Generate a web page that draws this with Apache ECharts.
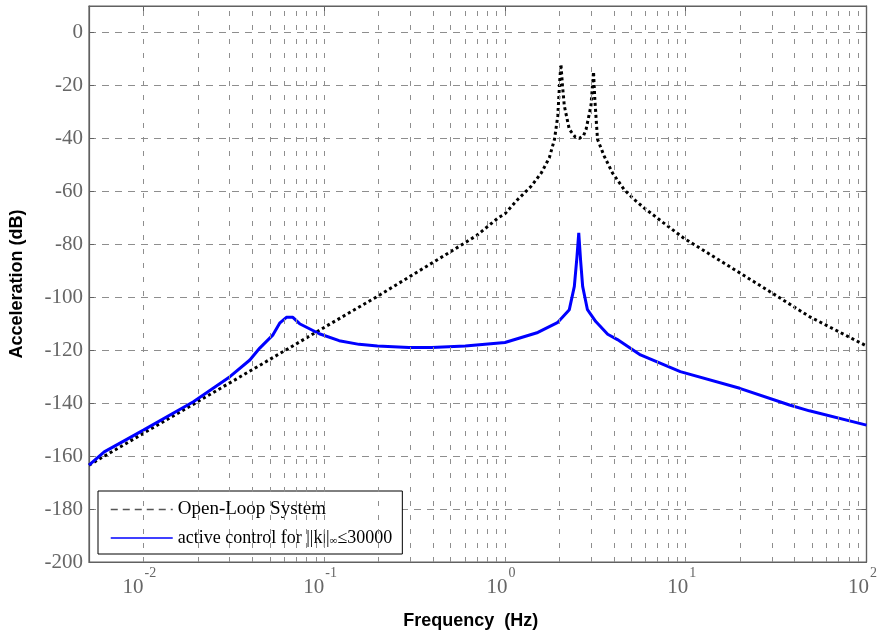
<!DOCTYPE html>
<html>
<head>
<meta charset="utf-8">
<script src="https://cdn.jsdelivr.net/npm/echarts@6/dist/echarts.min.js"></script>
<style>
html,body{margin:0;padding:0;background:#fff;}
#chart{width:888px;height:638px;}
</style>
</head>
<body>
<div id="chart"></div>
<script>
// ---- data ----
const openName = 'Open-Loop System';
const ctrlName = 'active control for ||k||∞≤30000';

const freqOpen = [0.005, 0.007, 0.01, 0.02, 0.05, 0.1, 0.2, 0.5, 0.7, 0.918, 1.0, 1.18, 1.40, 1.59, 1.76, 1.88, 1.96, 2.01, 2.04, 2.08, 2.13, 2.27, 2.45, 2.58, 2.72, 2.81, 2.99, 3.05, 3.09, 3.14, 3.25, 3.54, 3.93, 4.56, 5.17, 5.87, 7.5, 9.72, 19.9, 29.1, 48.3, 100];
const dbOpen   = [-163.4, -157.6, -151.4, -139.4, -123.5, -111.4, -99.4, -82.8, -76.6, -70.0, -68.5, -63.0, -58.0, -53.0, -47.3, -40.3, -31.5, -18.0, -12.0, -20.0, -27.7, -36.6, -39.5, -40.0, -39.0, -36.6, -27.7, -20.0, -14.8, -25.0, -40.3, -46.7, -53.0, -59.3, -63.0, -66.2, -71.8, -77.6, -90.8, -97.8, -107.3, -118.4];

const freqCtrl = [0.005, 0.00607, 0.01, 0.0189, 0.0301, 0.0388, 0.044, 0.0521, 0.0567, 0.0618, 0.0671, 0.0731, 0.094, 0.121, 0.156, 0.197, 0.294, 0.393, 0.603, 1.0, 1.52, 1.95, 2.27, 2.42, 2.50, 2.56, 2.62, 2.69, 2.86, 3.18, 3.7, 4.19, 5.62, 9.33, 19.9, 37.5, 48.3, 100];
const dbCtrl   = [-163.4, -158.4, -150.2, -139.5, -130.0, -123.7, -119.2, -114.2, -109.8, -107.6, -107.6, -110.0, -113.8, -116.4, -117.8, -118.4, -119.0, -119.0, -118.4, -117.1, -113.3, -109.6, -104.7, -95.9, -85.0, -75.7, -86.0, -95.9, -104.7, -109.2, -114.0, -116.0, -121.8, -128.1, -134.4, -140.7, -142.9, -148.3];

// ---- axes / grid ----
const xMin = 0.005, xMax = 100;
const yMin = -200, yMax = 10, yStep = 20;
const decades = [0.001, 0.01, 0.1, 1, 10];
const multipliers = [2, 3, 4, 5, 6, 7, 8, 9, 10];

const gridVerticals = [];
decades.forEach(d => multipliers.forEach(m => {
  const v = +(d * m).toPrecision(6);
  if (v > xMin && v < xMax) gridVerticals.push(v);
}));

const serif = 'Liberation Serif';
const sans = 'Liberation Sans';
const gridColor = '#8e8e8e';
const axisColor = '#616161';
const labelColor = '#666666';

function xLabel(v) {
  const e = Math.log10(v);
  const r = Math.round(e);
  if (Math.abs(e - r) > 1e-6) return '';
  return '{b|10}{s|' + r + '}';
}

const chart = echarts.init(document.getElementById('chart'), null, {renderer: 'canvas'});
chart.setOption({
  animation: false,
  backgroundColor: '#ffffff',
  grid: {left: 88, right: 17, top: 6, bottom: 76, show: true, borderColor: axisColor, borderWidth: 1.2, backgroundColor: 'transparent'},
  xAxis: [{
    type: 'log', min: xMin, max: xMax, logBase: 10,
    name: 'Frequency  (Hz)', nameLocation: 'middle', nameGap: 50,
    nameTextStyle: {fontFamily: sans, fontWeight: 'bold', fontSize: 18, color: '#000', padding: [0, 14, 0, 0]},
    axisLine: {show: true, onZero: false, lineStyle: {color: axisColor, width: 1.2}},
    axisTick: {show: true, inside: true, length: 5, lineStyle: {color: axisColor}},
    splitLine: {show: false},
    axisLabel: {
      margin: 4, interval: 0, hideOverlap: false, showMinLabel: true, showMaxLabel: true,
      formatter: xLabel,
      rich: {
        b: {fontFamily: serif, fontSize: 21, color: labelColor, lineHeight: 32, verticalAlign: 'bottom'},
        s: {fontFamily: serif, fontSize: 14, color: labelColor, lineHeight: 32, verticalAlign: 'top', padding: [0, 8, 0, 1]}
      }
    }
  }, {
    type: 'log', min: xMin, max: xMax, logBase: 10, position: 'top',
    axisLine: {show: true, onZero: false, lineStyle: {color: axisColor, width: 1.2}},
    axisTick: {show: true, inside: true, length: 5, lineStyle: {color: axisColor}},
    axisLabel: {show: false}, splitLine: {show: false}
  }],
  yAxis: [{
    type: 'value', min: yMin, max: yMax, interval: yStep,
    name: 'Acceleration (dB)', nameLocation: 'middle', nameGap: 63,
    nameTextStyle: {fontFamily: sans, fontWeight: 'bold', fontSize: 18, color: '#000'},
    axisLine: {show: true, onZero: false, lineStyle: {color: axisColor, width: 1.2}},
    axisTick: {show: true, inside: true, length: 5, lineStyle: {color: axisColor}},
    splitLine: {show: true, lineStyle: {color: gridColor, type: [7, 6], width: 1}},
    axisLabel: {
      margin: 6, fontFamily: serif, fontSize: 21, color: labelColor,
      formatter: v => (v > 0 ? '' : String(v))
    }
  }, {
    type: 'value', min: yMin, max: yMax, interval: yStep, position: 'right',
    axisLine: {show: true, onZero: false, lineStyle: {color: axisColor, width: 1.2}},
    axisTick: {show: true, inside: true, length: 5, lineStyle: {color: axisColor}},
    axisLabel: {show: false}, splitLine: {show: false}
  }],
  legend: {
    orient: 'vertical', left: 98, top: 491,
    backgroundColor: '#ffffff', borderColor: '#000000', borderWidth: 1, borderRadius: 0,
    padding: [9, 10, 7, 12], itemWidth: 62, itemHeight: 14, itemGap: 10,
    textStyle: {
      fontFamily: serif, fontSize: 19, color: '#000',
      rich: {
        n: {fontFamily: serif, fontSize: 18, color: '#000'},
        i: {fontFamily: serif, fontSize: 11, color: '#000', verticalAlign: 'bottom', lineHeight: 18}
      }
    },
    formatter: name => (name === ctrlName ? '{n|active control for ||k||}{i|∞}{n|≤30000}' : name),
    data: [
      {name: openName, itemStyle: {color: 'rgba(0,0,0,0)', borderWidth: 0}, lineStyle: {color: '#555555', type: [7, 5], width: 1.5}},
      {name: ctrlName, itemStyle: {color: 'rgba(0,0,0,0)', borderWidth: 0}, lineStyle: {color: '#0000ff', type: 'solid', width: 1.5}}
    ]
  },
  series: [
    {
      name: 'grid', type: 'line', data: [], silent: true, z: 1,
      markLine: {
        silent: true, symbol: ['none', 'none'], animation: false,
        label: {show: false},
        lineStyle: {color: gridColor, type: [5, 9], width: 1},
        emphasis: {disabled: true},
        data: gridVerticals.map(v => ({xAxis: v}))
      }
    },
    {
      name: openName, type: 'line', symbol: 'none', z: 3,
      data: freqOpen.map((f, i) => [f, dbOpen[i]]),
      itemStyle: {color: '#000000'},
      lineStyle: {color: '#000000', width: 3, type: [3, 3], cap: 'butt'}
    },
    {
      name: ctrlName, type: 'line', symbol: 'none', z: 4,
      data: freqCtrl.map((f, i) => [f, dbCtrl[i]]),
      itemStyle: {color: '#0000ff'},
      lineStyle: {color: '#0000ff', width: 3, type: 'solid'}
    }
  ]
});
</script>
</body>
</html>
